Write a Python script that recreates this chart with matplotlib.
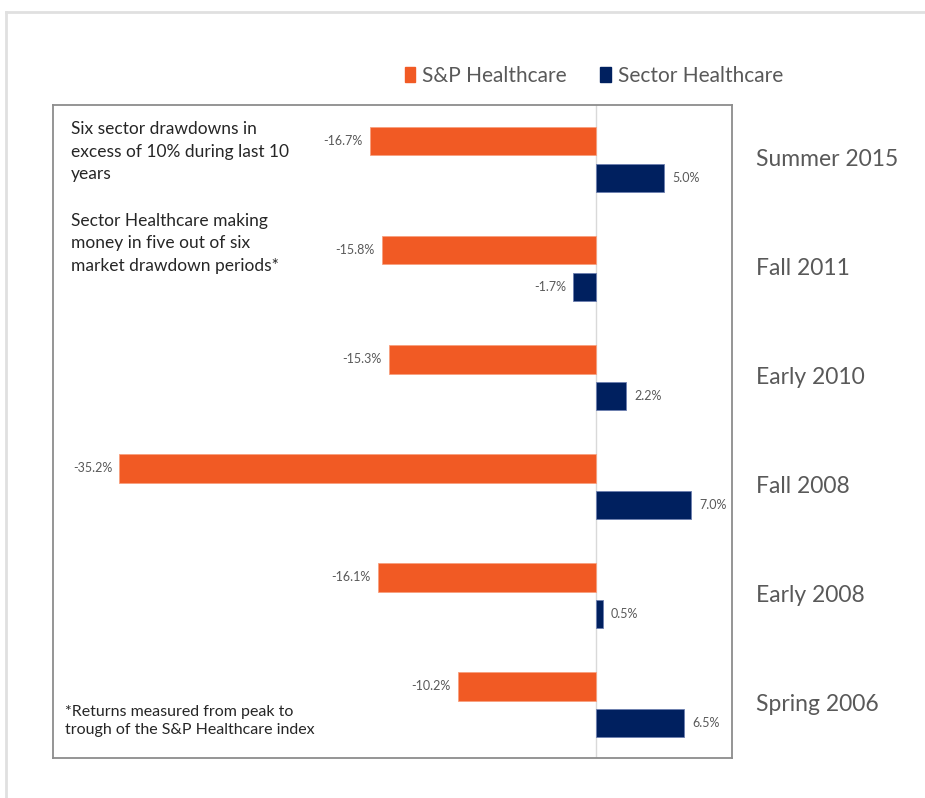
import matplotlib.pyplot as plt
import numpy as np
from matplotlib.patches import Patch
from matplotlib.lines import Line2D

# data (top to bottom as in the chart)
periods = ["Summer 2015", "Fall 2011", "Early 2010", "Fall 2008", "Early 2008", "Spring 2006"]
sp_healthcare = [-16.7, -15.8, -15.3, -35.2, -16.1, -10.2]
sector_healthcare = [5.0, -1.7, 2.2, 7.0, 0.5, 6.5]

ORANGE = "#F15A24"
NAVY = "#00205F"
GRAY_TXT = "#595959"

plt.rcParams["font.family"] = ["Lato", "DejaVu Sans"]

fig = plt.figure(figsize=(9.25, 7.98), dpi=100)
W, H = 925, 798
ax = fig.add_axes([53 / W, 1 - 758 / H, (732 - 53) / W, (758 - 105) / H])

n = len(periods)
y = np.arange(n)[::-1]  # Summer 2015 at top
off = 0.167
h = 0.26

b1 = ax.barh(y + off, sp_healthcare, height=h, color=ORANGE, edgecolor="#F8A07F", linewidth=0.6)
b2 = ax.barh(y - off, sector_healthcare, height=h, color=NAVY, edgecolor="#6C7FB0", linewidth=0.6)

for bars in (b1, b2):
    for bar in bars:
        v = bar.get_width()
        yc = bar.get_y() + bar.get_height() / 2
        if v < 0:
            ax.annotate(f"{v:.1f}%", (v, yc), xytext=(-5, 0), textcoords="offset points",
                        ha="right", va="center", fontsize=9, color=GRAY_TXT)
        else:
            ax.annotate(f"{v:.1f}%", (v, yc), xytext=(6, 0), textcoords="offset points",
                        ha="left", va="center", fontsize=9, color=GRAY_TXT)

ax.axvline(0, color="#D9D9D9", linewidth=1, zorder=0)
ax.set_xlim(-40.07, 10.04)
ax.set_ylim(-0.49, n - 0.5)
ax.set_xticks([])
ax.set_yticks([])
for s in ax.spines.values():
    s.set_color("#8C8C8C")
    s.set_linewidth(1.3)

# period labels to the right of the box
for yy, lab in zip(y, periods):
    ax.annotate(lab, (1, yy), xycoords=("axes fraction", "data"), xytext=(17, 0),
                textcoords="offset points", ha="left", va="center",
                fontsize=16.5, color=GRAY_TXT)

# notes inside the box
ax.text(0.026, 0.975, "Six sector drawdowns in\nexcess of 10% during last 10\nyears",
        transform=ax.transAxes, ha="left", va="top", fontsize=12.5,
        color="#262626", linespacing=1.5)
ax.text(0.026, 0.835, "Sector Healthcare making\nmoney in five out of six\nmarket drawdown periods*",
        transform=ax.transAxes, ha="left", va="top", fontsize=12.5,
        color="#262626", linespacing=1.5)
ax.text(0.018, 0.032, "*Returns measured from peak to\ntrough of the S&P Healthcare index",
        transform=ax.transAxes, ha="left", va="bottom", fontsize=11.5,
        color="#262626", linespacing=1.4)

handles = [Patch(color=ORANGE, label="S&P Healthcare"),
           Patch(color=NAVY, label="Sector Healthcare")]
fig.legend(handles=handles, loc="center", bbox_to_anchor=(594 / W, 1 - 76 / H), ncol=2,
           frameon=False, fontsize=15, handlelength=0.5, handleheight=0.75,
           handletextpad=0.35, columnspacing=1.6, labelcolor=GRAY_TXT)

# partial outer frame of the screenshot
fig.add_artist(Line2D([6 / W, 1], [1 - 12 / H, 1 - 12 / H], color="#E0E0E0", linewidth=2))
fig.add_artist(Line2D([6 / W, 6 / W], [0, 1 - 12 / H], color="#E0E0E0", linewidth=2))

fig.savefig("out.png", dpi=100)
